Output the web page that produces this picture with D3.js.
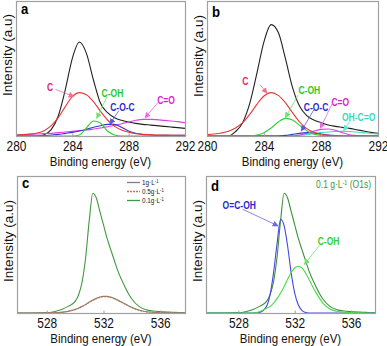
<!DOCTYPE html>
<html>
<head>
<meta charset="utf-8">
<title>XPS spectra</title>
<style>
  body { margin: 0; background: #fff; }
  svg text { font-family: "Liberation Sans", Arial, sans-serif; }
</style>
</head>
<body>
<div id="chart"></div>
<script src="https://cdnjs.cloudflare.com/ajax/libs/d3/7.8.5/d3.min.js"></script>
<script>
(function(d3) {
  'use strict';

  var energyC1s = [280, 280.5, 281, 281.5, 282, 282.5, 283, 283.5, 284, 284.5, 285, 285.5,
    286, 286.5, 287, 287.5, 288, 288.5, 289, 289.5, 290, 290.5, 291, 291.5, 292];
  var envelopeA = [0, 0, 0, 0, 4, 19, 60, 139, 233, 282, 248, 168, 98, 70, 55, 47, 42, 38, 35, 33, 31, 29, 27, 25, 23];
  var cA = [3, 4, 6, 9, 16, 31, 55, 88, 118, 130, 124, 103, 74, 48, 29, 18, 11, 7, 5, 4, 3, 3, 2, 2, 2];
  var cohA = [0, 0, 0, 0, 0, 0, 0, 0, 0, 3, 24, 45, 38, 15, 3, 0, 0, 0, 0, 0, 0, 0, 0, 0, 0];
  var cocA = [0, 0, 0, 0, 1, 3, 5, 8, 11, 15, 20, 26, 31, 35, 35, 26, 15, 8, 4, 3, 2, 2, 2, 2, 2];
  var coA = [3, 4, 5, 6, 7, 8, 10, 12, 14, 16, 18, 21, 24, 28, 32, 37, 42, 47, 50, 50, 49, 47, 45, 43, 40];

  var envelopeB = [0, 0, 0, 0, 13, 40, 98, 188, 283, 334, 311, 233, 146, 89, 61, 48, 40, 33, 29, 26, 23, 19, 15, 11, 8];
  var cB = [4, 6, 9, 14, 24, 40, 65, 95, 120, 130, 122, 100, 70, 42, 22, 11, 5, 2, 1, 0, 0, 0, 0, 0, 0];
  var cohB = [0, 0, 0, 0, 0, 0, 0, 3, 10, 24, 42, 53, 48, 32, 16, 6, 2, 0, 0, 0, 0, 0, 0, 0, 0];
  var cocB = [0, 0, 0, 0, 0, 0, 0, 0, 0, 0, 0, 2, 5, 8, 10, 9, 6, 3, 1, 0, 0, 0, 0, 0, 0];
  var coB = [0, 0, 0, 0, 0, 0, 0, 0, 0, 0, 0, 0, 0, 3, 8, 15, 20, 21, 17, 10, 4, 1, 0, 0, 0];
  var ohcoB = [0, 0, 0, 0, 0, 0, 0, 0, 0, 0, 0, 0, 1, 2, 4, 7, 10, 12, 14, 14, 13, 12, 10, 8, 6];

  // O1s binding energies (eV), panels c and d
  var energyO1s = [525.5, 527, 528, 528.5, 529, 529.5, 530, 530.25, 530.5, 530.75, 531, 531.25, 531.5,
    531.75, 532, 532.25, 532.5, 532.75, 533, 533.5, 534, 534.5, 535, 535.5, 536, 537, 538];
  var o1s01 = [0, 0, 1, 4, 10, 20, 35, 55, 95, 170, 280, 360, 345, 305, 265, 225, 192, 160, 128, 80, 42, 20, 10, 6, 4, 2, 1];
  var o1s1 = [0, 0, 0, 1, 2, 5, 11, 15, 20, 26, 33, 39, 44, 48, 50, 50, 48, 44, 39, 28, 17, 9, 4, 2, 1, 0, 0];
  var o1s05 = [0, 0, 0, 1, 2, 5, 10, 14, 19, 25, 32, 38, 43, 47, 49, 49, 47, 43, 38, 27, 16, 8, 4, 2, 1, 0, 0];
  var ocohD = [0, 0, 0, 0, 0, 2, 20, 55, 122, 210, 282, 262, 200, 120, 60, 25, 8, 2, 0, 0, 0, 0, 0, 0, 0, 0, 0];
  var cohD = [0, 0, 0, 0, 0, 4, 14, 20, 30, 44, 60, 80, 102, 122, 136, 140, 136, 122, 102, 62, 30, 12, 5, 2, 1, 0, 0];

  var legendLabels = ['1g\u00b7L', '0.5g\u00b7L', '0.1g\u00b7L'];
  var ticksC1s = [280, 284, 288, 292];
  var ticksO1s = [528, 532, 536];

  var W = 387, H = 346;
  var SX = 0.85; // the figure's lettering is a bit narrow
  var svg = d3.select('#chart').append('svg')
    .attr('width', W).attr('height', H);
  var defs = svg.append('defs');

  function label(parent, x, y, str) {
    return parent.append('text')
      .attr('transform', 'translate(' + x + ',' + y + ') scale(' + SX + ',1)')
      .text(str);
  }

  var markerIds = {};
  function marker(color) {
    if (markerIds[color]) return 'url(#' + markerIds[color] + ')';
    var id = 'arr' + Object.keys(markerIds).length;
    markerIds[color] = id;
    defs.append('marker')
      .attr('id', id)
      .attr('viewBox', '0 0 10 10')
      .attr('refX', 9).attr('refY', 5)
      .attr('markerWidth', 6).attr('markerHeight', 6)
      .attr('markerUnits', 'userSpaceOnUse')
      .attr('orient', 'auto')
      .append('path')
      .attr('d', 'M0,0 L10,5 L0,10 z')
      .attr('fill', color);
    return 'url(#' + id + ')';
  }

  var gray = { values: o1s1, color: '#808080' };
  var brown = { values: o1s05, color: '#b87850', dash: '2,1' };
  var green = { values: o1s01, color: '#3f9a3f' };

  var panels = [
    {
      letter: 'a', left: 16, top: 1, right: 185, bottom: 136,
      xDomain: [280, 292], yMax: 405, ticks: ticksC1s, energy: energyC1s, titleY: 55, letterY: 14,
      series: [
        { values: envelopeA, color: '#222' },
        { values: coA, color: '#e040e0' },
        { values: cocA, color: '#3535d5' },
        { values: cohA, color: '#30d030' },
        { values: cA, color: '#e83838' }
      ],
      notes: [
        { text: 'C', color: '#e51e6a', arrow: '#f07090', t: [282.41, 147], a: [282.8, 140, 284.12, 118] },
        { text: 'C-OH', color: '#22cc22', arrow: '#70e070', t: [286.85, 129], a: [286.45, 117, 285.73, 53] },
        { text: 'C-O-C', color: '#2828cc', arrow: '#5a5ae0', t: [287.56, 87], a: [287.3, 76, 286.67, 36] },
        { text: 'C=O', color: '#e020d0', arrow: '#ea6ae0', t: [290.65, 108], a: [290.05, 99, 289.16, 54] }
      ]
    },
    {
      letter: 'b', left: 207, top: 1, right: 378, bottom: 136,
      xDomain: [280, 292], yMax: 405, ticks: ticksC1s, energy: energyC1s, titleY: 56, letterY: 17,
      series: [
        { values: envelopeB, color: '#222' },
        { values: ohcoB, color: '#40e0c0' },
        { values: coB, color: '#e040e0' },
        { values: cocB, color: '#3535d5' },
        { values: cohB, color: '#30d030' },
        { values: cB, color: '#e83838' }
      ],
      notes: [
        { text: 'C', color: '#e51e6a', arrow: '#f07090', t: [282.69, 164], a: [283.74, 153, 284.21, 128] },
        { text: 'C-OH', color: '#22cc22', arrow: '#70e070', t: [287.18, 136], a: [286.39, 123, 285.5, 55] },
        { text: 'C-O-C', color: '#2828cc', arrow: '#5a5ae0', t: [287.65, 86], a: [287.49, 78, 286.62, 15] },
        { text: 'C=O', color: '#e020d0', arrow: '#ea6ae0', t: [289.35, 101], a: [288.77, 96, 287.95, 23] },
        { text: 'OH-C=O', color: '#30dcc0', arrow: '#60e6cc', t: [290.64, 56], a: [290.06, 46, 289.59, 16] }
      ]
    },
    {
      letter: 'c', left: 17, top: 176, right: 185, bottom: 313,
      xDomain: [525.9, 537.75], yMax: 412, ticks: ticksO1s, energy: energyO1s, titleY: 241, letterY: 188,
      series: [green, gray, brown],
      legend: [gray, brown, green],
      notes: []
    },
    {
      letter: 'd', left: 206, top: 176, right: 375, bottom: 313,
      xDomain: [525.7, 537.7], yMax: 412, ticks: ticksO1s, energy: energyO1s, titleY: 241, letterY: 191,
      series: [
        { values: o1s01, color: '#3f8f3f' },
        { values: ocohD, color: '#4848e0' },
        { values: cohD, color: '#44dd44' }
      ],
      notes: [
        { text: 'O=C-OH', color: '#2828cc', arrow: '#6a6ae6', t: [528.06, 322], a: [528.3, 312, 530.82, 262] },
        { text: 'C-OH', color: '#33d033', arrow: '#70e070', t: [534.4, 214], a: [533.75, 203, 532.68, 146] }
      ]
    }
  ];

  panels.forEach(function(p, pi) {
    var x = d3.scaleLinear().domain(p.xDomain).range([p.left, p.right]);
    var y = d3.scaleLinear().domain([0, p.yMax]).range([p.bottom, p.top]);
    var g = svg.append('g');

    defs.append('clipPath').attr('id', 'clip' + pi)
      .append('rect')
      .attr('x', p.left).attr('y', p.top)
      .attr('width', p.right - p.left).attr('height', p.bottom - p.top);

    var line = d3.line()
      .x(function(d, i) { return x(p.energy[i]); })
      .y(function(d) { return y(d); })
      .curve(d3.curveMonotoneX);

    var plot = g.append('g').attr('clip-path', 'url(#clip' + pi + ')');
    plot.selectAll('path')
      .data(p.series)
      .enter()
      .append('path')
      .attr('d', function(s) { return line(s.values); })
      .attr('fill', 'none')
      .attr('stroke', function(s) { return s.color; })
      .attr('stroke-width', 1.1)
      .attr('stroke-dasharray', function(s) { return s.dash || null; });

    // frame
    g.append('rect')
      .attr('x', p.left + 0.5).attr('y', p.top + 0.5)
      .attr('width', p.right - p.left).attr('height', p.bottom - p.top)
      .attr('fill', 'none').attr('stroke', '#a0a0a0').attr('stroke-width', 1.2);

    // x axis, ticks pointing inward
    var axis = d3.axisBottom(x).tickValues(p.ticks).tickSizeInner(-3).tickSizeOuter(0).tickPadding(6);
    var ax = g.append('g').attr('transform', 'translate(0,' + (p.bottom + 0.5) + ')').call(axis);
    ax.select('.domain').remove();
    ax.selectAll('line').attr('stroke', '#a0a0a0');
    ax.selectAll('text')
      .attr('font-size', 14).attr('fill', '#111')
      .attr('y', 5).attr('dy', '0.71em')
      .attr('transform', 'scale(' + SX + ',1)');

    label(g, (p.left + p.right) / 2, p.bottom + 30, 'Binding energy (eV)')
      .attr('text-anchor', 'middle').attr('font-size', 13.5).attr('fill', '#111');

    g.append('text')
      .attr('transform', 'translate(' + (p.left - 9) + ',' + p.titleY + ') rotate(-90)')
      .attr('text-anchor', 'middle').attr('dy', '0.35em')
      .attr('font-size', 13.5).attr('fill', '#111')
      .text('Intensity (a.u)');

    label(g, p.left + 5, p.letterY, p.letter)
      .attr('font-size', 15.5).attr('font-weight', 'bold').attr('fill', '#000');

    p.notes.forEach(function(n) {
      g.append('line')
        .attr('x1', x(n.a[0])).attr('y1', y(n.a[1]))
        .attr('x2', x(n.a[2])).attr('y2', y(n.a[3]))
        .attr('stroke', n.arrow).attr('stroke-width', 0.8)
        .attr('marker-end', marker(n.arrow));
      label(g, x(n.t[0]), y(n.t[1]), n.text)
        .attr('text-anchor', 'middle').attr('dy', '0.35em')
        .attr('font-size', 10).attr('font-weight', 'bold')
        .attr('fill', n.color);
    });

    if (p.legend) {
      var leg = g.append('g');
      p.legend.forEach(function(s, i) {
        var ly = 182.5 + i * 9;
        leg.append('line')
          .attr('x1', 127).attr('x2', 140).attr('y1', ly).attr('y2', ly)
          .attr('stroke', s.color).attr('stroke-width', 1.3)
          .attr('stroke-dasharray', s.dash || null);
        var t = label(leg, 142, ly + 2.7, legendLabels[i])
          .attr('font-size', 7.5).attr('fill', '#222');
        t.append('tspan').attr('dy', -2.5).attr('font-size', 5).text('-1');
      });
    }

    if (p.letter === 'd') {
      var lab = label(g, p.right - 4, p.top + 12, '0.1 g\u00b7L')
        .attr('text-anchor', 'end').attr('font-size', 10).attr('fill', '#3a9a3a');
      lab.append('tspan').attr('dy', -3).attr('font-size', 6.5).text('-1');
      lab.append('tspan').attr('dy', 3).text(' (O1s)');
    }
  });
})(window.d3);
</script>
</body>
</html>
